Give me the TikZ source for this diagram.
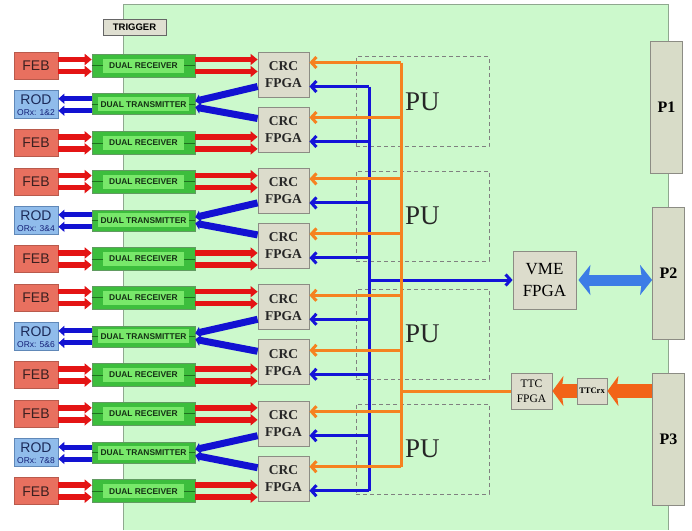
\documentclass[tikz,border=0pt]{standalone}
\usepackage{fontspec}
\setmainfont{Liberation Serif}
\newfontfamily\arialf{Liberation Sans}
\usetikzlibrary{arrows.meta,calc}
\definecolor{board}{HTML}{CCF9CC}
\definecolor{boardline}{HTML}{8FA88F}
\definecolor{febfill}{HTML}{E8705F}
\definecolor{febline}{HTML}{B95A4C}
\definecolor{febtext}{HTML}{3B2020}
\definecolor{rodfill}{HTML}{90BCEB}
\definecolor{rodline}{HTML}{6088B8}
\definecolor{rodtext}{HTML}{1C2A58}
\definecolor{recout}{HTML}{3DBE3D}
\definecolor{recinner}{HTML}{78E86A}
\definecolor{recline}{HTML}{1E701E}
\definecolor{rectext}{HTML}{143014}
\definecolor{crcfill}{HTML}{DCDCCC}
\definecolor{crcline}{HTML}{8C8C84}
\definecolor{redarr}{HTML}{E41414}
\definecolor{bluearr}{HTML}{1212D2}
\definecolor{busblue}{HTML}{1414D8}
\definecolor{busorange}{HTML}{F58220}
\definecolor{thickorange}{HTML}{F26418}
\definecolor{vmeblue}{HTML}{3C7CE6}
\definecolor{pfill}{HTML}{D8DCC8}
\begin{document}
\begin{tikzpicture}[x=1pt,y=-1pt,
  febbox/.style={draw=febline,fill=febfill,line width=0.8pt,minimum width=44pt,minimum height=27pt,inner sep=0pt,
    font=\arialf\fontsize{14}{14}\selectfont,text=febtext},
  rodbox/.style={draw=rodline,fill=rodfill,line width=0.8pt,minimum width=44pt,minimum height=28pt,inner sep=0pt},
  recbox/.style={draw=recline!70,fill=recout,line width=0.6pt,minimum width=103pt,minimum height=23pt,inner sep=0pt},
  recin/.style={fill=recinner,minimum height=14pt,inner sep=0pt,
    font=\arialf\bfseries\fontsize{8.4}{9}\selectfont,text=rectext},
  recdash/.style={draw=recline,line width=0.7pt},
  crcbox/.style={draw=crcline,fill=crcfill,line width=0.8pt,minimum width=51pt,minimum height=45pt,inner sep=0pt,
    align=center,font=\bfseries\fontsize{13.5}{17}\selectfont,text=black!85},
  grayb/.style={draw=crcline,fill=crcfill,line width=0.8pt,inner sep=0pt,align=center},
  pbox/.style={draw=crcline,fill=pfill,line width=0.8pt,minimum width=32pt,minimum height=132pt,inner sep=0pt,
    font=\bfseries\fontsize{16}{16}\selectfont},
  pubox/.style={draw=black!50,dash pattern=on 4pt off 3pt,line width=0.8pt,minimum width=133pt,minimum height=90pt,inner sep=0pt},
  pulabel/.style={font=\fontsize{27}{27}\selectfont,inner sep=0pt,anchor=west,text=black!85},
  redline/.style={draw=redarr,line width=5.5pt,-{Triangle[length=7pt,width=11pt]}},
  blueline/.style={draw=bluearr,line width=5pt,-{Triangle[length=6pt,width=10pt]}},
  bluethick/.style={draw=bluearr,line width=7pt,-{Triangle[length=5pt,width=11pt]}},
  bbus/.style={draw=busblue,line width=3pt},
  obus/.style={draw=busorange,line width=3pt},
  barb/.style={-{Straight Barb[length=5pt,width=11pt]}},
]
\useasboundingbox (0,0) rectangle (692,530);
\fill[white] (0,0) rectangle (692,530);
\fill[board] (123,4) rectangle (668,530);
\draw[boardline,line width=0.8pt] (123,530) -- (123,4) -- (668,4) -- (668,530);

\node[grayb,minimum width=63pt,minimum height=16pt,draw=black!60,fill=crcfill!90!white,
  font=\arialf\bfseries\fontsize{9.5}{10}\selectfont] (trig) at (134.5,27) {TRIGGER};

% PU dashed boxes
\foreach \i/\yy in {1/101.5,2/216,3/334,4/449}{
  \node[pubox] (pu\i) at (422.5,\yy) {};
  \node[pulabel] (pul\i) at (405,\yy) {PU};
}

\coordinate (bx) at (369,0);
\coordinate (ox) at (401,0);

\foreach \k in {0,1,2,3}{
  \pgfmathsetmacro\ya{65.5+116.1*\k}
  \pgfmathsetmacro\yb{\ya+38.7}
  \pgfmathsetmacro\yc{\ya+77.4}
  \pgfmathsetmacro\ca{74.5+116.4*\k}
  \pgfmathsetmacro\cb{\ca+55}
  \pgfmathtruncatemacro\na{2*\k+1}
  \pgfmathtruncatemacro\nb{2*\k+2}
  % left column
  \node[febbox] (feba\k) at (36,\ya) {FEB};
  \node[rodbox] (rod\k) at (36,\yb) {};
  \node[inner sep=0pt,font=\arialf\fontsize{14}{14}\selectfont,text=rodtext] (rodt\k) at ([yshift=5pt]rod\k.center) {ROD};
  \node[inner sep=0pt,font=\arialf\fontsize{8.5}{9}\selectfont,text=rodtext!80!blue] (rodo\k) at ([yshift=-8.5pt]rod\k.center) {ORx: \na\&\nb};
  \node[febbox] (febc\k) at (36,\yc) {FEB};
  % receivers / transmitter
  \node[recbox] (reca\k) at (143.5,\ya) {};
  \node[recin,minimum width=81pt] (recai\k) at (reca\k) {DUAL RECEIVER};
  \draw[recdash] (reca\k.west) -- (recai\k.west);
  \draw[recdash] (reca\k.east) -- (recai\k.east);
  \node[recbox,minimum height=21pt] (dt\k) at (143.5,\yb) {};
  \node[recin,minimum width=91pt] (dti\k) at (dt\k) {DUAL TRANSMITTER};
  \draw[recdash] (dt\k.west) -- (dti\k.west);
  \draw[recdash] (dt\k.east) -- (dti\k.east);
  \node[recbox] (recc\k) at (143.5,\yc) {};
  \node[recin,minimum width=81pt] (recci\k) at (recc\k) {DUAL RECEIVER};
  \draw[recdash] (recc\k.west) -- (recci\k.west);
  \draw[recdash] (recc\k.east) -- (recci\k.east);
  % CRC FPGAs
  \node[crcbox] (crca\k) at (283.5,\ca) {CRC\\FPGA};
  \node[crcbox] (crcb\k) at (283.5,\cb) {CRC\\FPGA};
  % red arrows FEB -> receiver -> CRC
  \foreach \s in {6,-6}{
    \draw[redline] ([yshift=\s pt]feba\k.east) -- ([yshift=\s pt]reca\k.west);
    \draw[redline] ([yshift=\s pt]febc\k.east) -- ([yshift=\s pt]recc\k.west);
    \coordinate (ra\k\s) at ([yshift=\s pt]reca\k.east);
    \coordinate (rc\k\s) at ([yshift=\s pt]recc\k.east);
    \draw[redline] (ra\k\s) -- (ra\k\s -| crca\k.west);
    \draw[redline] (rc\k\s) -- (rc\k\s -| crcb\k.west);
    % blue arrows transmitter -> ROD
    \draw[blueline] ([yshift=\s pt-0.5pt]dt\k.west) -- ([yshift=\s pt-0.5pt]rod\k.east);
  }
  % CRC -> transmitter
  \draw[bluethick] ([yshift=-12pt]crca\k.west) -- ([yshift=3pt]dt\k.east);
  \draw[bluethick] ([yshift=11pt]crcb\k.west) -- ([yshift=-3pt]dt\k.east);
  % bus entry points
  \coordinate (oa\k) at ([yshift=12pt]crca\k.east);
  \coordinate (ob\k) at ([yshift=12pt]crcb\k.east);
  \coordinate (ba\k) at ([yshift=-12pt]crca\k.east);
  \coordinate (bb\k) at ([yshift=-12pt]crcb\k.east);
}

% right side
\node[pbox] (p1) at (666.5,107.5) {P1};
\node[pbox] (p2) at (668.5,273) {P2};
\node[pbox] (p3) at (668.5,439.5) {P3};
\node[grayb,minimum width=63pt,minimum height=58pt,font=\fontsize{17}{22}\selectfont] (vme) at (544.5,280) {VME\\FPGA};
\node[grayb,minimum width=41pt,minimum height=36pt,font=\fontsize{11.5}{15}\selectfont] (ttc) at (531.5,391) {TTC\\FPGA};
\node[grayb,minimum width=30pt,minimum height=26pt,font=\bfseries\fontsize{8.5}{9}\selectfont] (ttcrx) at (592,391) {TTCrx};

% blue bus
\draw[bbus] (ba0 -| bx) -- (bb3 -| bx);
\foreach \k in {0,1,2,3}{
  \draw[bbus,barb] (ba\k -| bx) -- (ba\k);
  \draw[bbus,barb] (bb\k -| bx) -- (bb\k);
}
\draw[bbus,barb] (vme.west -| bx) -- (vme.west);
% orange bus
\draw[obus] (oa0 -| ox) -- (ob3 -| ox);
\foreach \k in {0,1,2,3}{
  \draw[obus,barb] (oa\k -| ox) -- (oa\k);
  \draw[obus,barb] (ob\k -| ox) -- (ob\k);
}
\draw[obus] (ttc.west -| ox) -- (ttc.west);

% thick arrows
\draw[vmeblue,line width=11pt,{Stealth[length=12pt,width=30pt,inset=2pt]}-{Stealth[length=12pt,width=30pt,inset=2pt]}]
  ([xshift=2pt]vme.east) -- (vme.east -| p2.west);
\draw[thickorange,line width=14pt,-{Stealth[length=11pt,width=30pt,inset=2pt]}] (p3.west |- ttcrx.east) -- (ttcrx.east);
\draw[thickorange,line width=14pt,-{Stealth[length=11pt,width=30pt,inset=2pt]}] (ttcrx.west) -- (ttc.east);
\end{tikzpicture}
\end{document}
